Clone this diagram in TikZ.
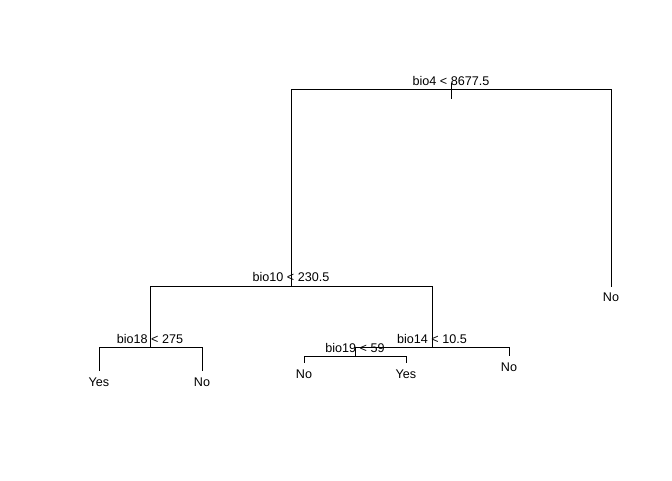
\documentclass[tikz,border=0pt]{standalone}
\usepackage{fontspec}
\setmainfont{Liberation Sans}
\begin{document}
\begin{tikzpicture}[x=1pt,y=-1pt,
  edge/.style={line width=1pt,line cap=rect},
  lbl/.style={font=\fontsize{12.6}{14}\selectfont,inner sep=0pt,anchor=base}]
\useasboundingbox (0,0) rectangle (672,480);
% split and leaf points
\coordinate (rtop) at (451,83);
\coordinate (rbot) at (451,98);
\coordinate (rL) at (291,89.5);
\coordinate (rR) at (611,89.5);
\coordinate (n10) at (291,286.5);
\coordinate (n10L) at (150,286.5);
\coordinate (n10R) at (432,286.5);
\coordinate (lfR) at (611,286);
\coordinate (n18) at (150,347.3);
\coordinate (n18L) at (99,347.3);
\coordinate (n18R) at (202,347.3);
\coordinate (lf18L) at (99,370);
\coordinate (lf18R) at (202,370);
\coordinate (n14) at (432,347.3);
\coordinate (n14L) at (355,347.3);
\coordinate (n14R) at (509,347.3);
\coordinate (lf14R) at (509,355);
\coordinate (n19) at (355,356.7);
\coordinate (n19L) at (304,356.7);
\coordinate (n19R) at (406,356.7);
\coordinate (lf19L) at (304,362.7);
\coordinate (lf19R) at (406,362.7);
% edges
\draw[edge] (rtop) -- (rbot);
\draw[edge] (n10) -- (rL) -- (rR) -- (lfR);
\draw[edge] (n18) -- (n10L) -- (n10R) -- (n14);
\draw[edge] (lf18L) -- (n18L) -- (n18R) -- (lf18R);
\draw[edge] (n19) -- (n14L) -- (n14R) -- (lf14R);
\draw[edge] (lf19L) -- (n19L) -- (n19R) -- (lf19R);
% split labels
\node[lbl] (t4) at (451,85.5) {bio4 < 8677.5};
\node[lbl] (t10) at (291,281.5) {bio10 < 230.5};
\node[lbl] (t18) at (150,343.8) {bio18 < 275};
\node[lbl] (t14) at (432,343.8) {bio14 < 10.5};
\node[lbl] (t19) at (355,352.7) {bio19 < 59};
% leaf labels
\node[lbl] (y18) at (99,386) {Yes};
\node[lbl] (n18t) at (202,386) {No};
\node[lbl] (n19t) at (304,378) {No};
\node[lbl] (y19) at (406,378) {Yes};
\node[lbl] (n14t) at (509,371) {No};
\node[lbl] (nRt) at (611,301) {No};
\end{tikzpicture}
\end{document}
